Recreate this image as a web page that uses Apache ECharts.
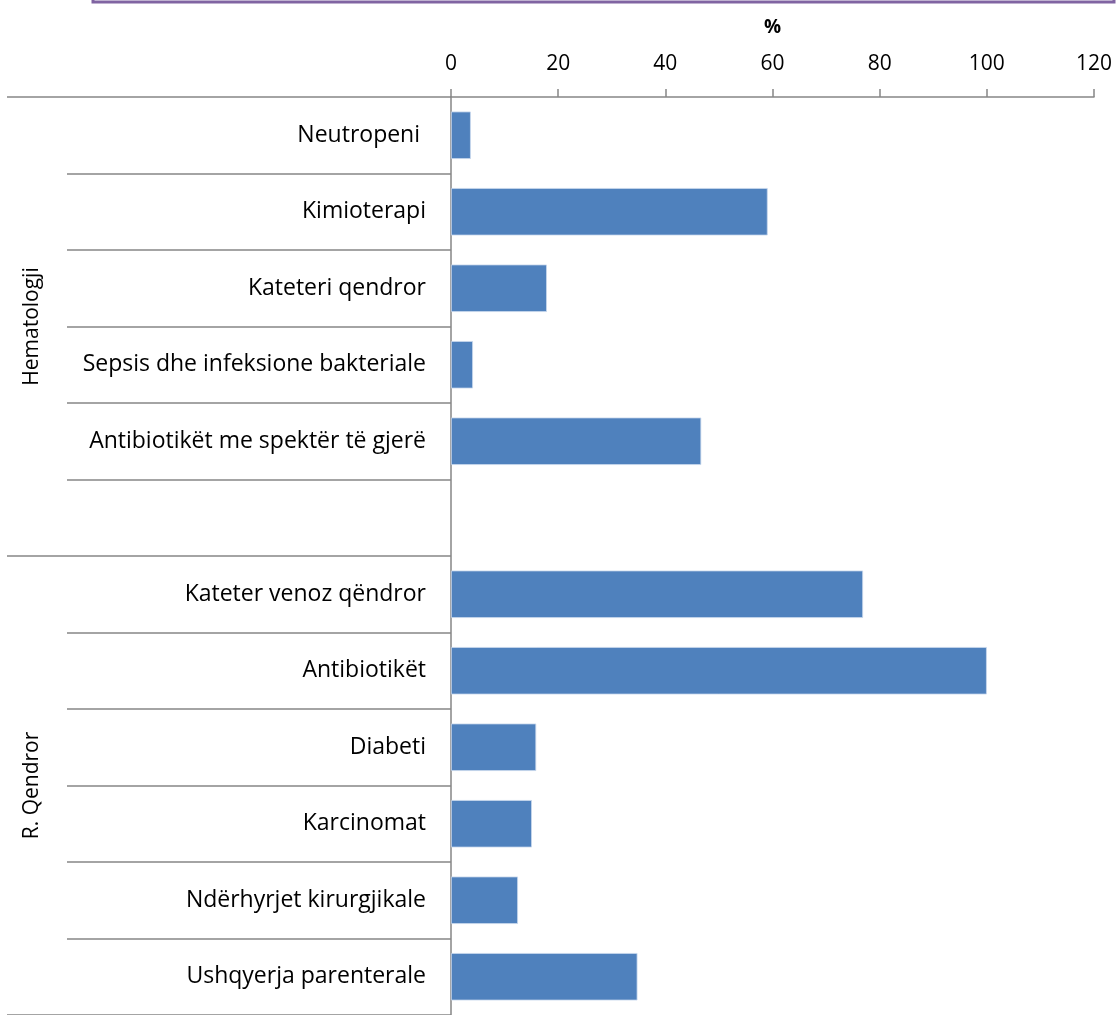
<!DOCTYPE html>
<html>
<head>
<meta charset="utf-8">
<script src="https://cdn.jsdelivr.net/npm/echarts@6/dist/echarts.min.js"></script>
<style>
  html, body { margin: 0; padding: 0; background: #ffffff; }
  #chart { width: 1118px; height: 1015px; }
</style>
</head>
<body>
<div id="chart"></div>
<script>
// Risk factors (%), two ward groups separated by an empty slot
const categories = [
  'Neutropeni ',
  'Kimioterapi',
  'Kateteri qendror',
  'Sepsis dhe infeksione bakteriale',
  'Antibiotikët me spektër të gjerë',
  '',
  'Kateter venoz qëndror',
  'Antibiotikët',
  'Diabeti',
  'Karcinomat',
  'Ndërhyrjet kirurgjikale',
  'Ushqyerja parenterale'
];
const values = [3.7, 59.1, 17.9, 4.1, 46.7, null, 76.9, 100, 15.9, 15.1, 12.5, 34.8];
const groups = ['Hematologji', 'R. Qendror'];
const xTicks = { min: 0, max: 120, interval: 20 };

const FONT = '"Open Sans", "Noto Sans", sans-serif';
const AXIS_GREY = '#868686';

const chart = echarts.init(document.getElementById('chart'), null, { renderer: 'canvas' });

chart.setOption({
  animation: false,
  backgroundColor: '#ffffff',
  textStyle: { fontFamily: FONT },
  grid: { left: 451, top: 97, width: 643, height: 919, containLabel: false },
  xAxis: {
    type: 'value',
    position: 'top',
    min: xTicks.min,
    max: xTicks.max,
    interval: xTicks.interval,
    name: '%',
    nameLocation: 'middle',
    nameGap: 60,
    nameTextStyle: { fontFamily: FONT, fontSize: 19, fontWeight: 'bold', color: '#000' },
    axisLine: { show: true, lineStyle: { color: AXIS_GREY, width: 1.5 } },
    axisTick: { show: true, length: 8, lineStyle: { color: AXIS_GREY, width: 1.5 } },
    axisLabel: { fontFamily: FONT, fontSize: 21, color: '#000', margin: 22 },
    splitLine: { show: false }
  },
  yAxis: [
    {
      type: 'category',
      data: categories,
      inverse: true,
      axisLine: { show: true, lineStyle: { color: AXIS_GREY, width: 1.5 } },
      axisTick: { show: true, length: 384, lineStyle: { color: AXIS_GREY, width: 1.5 } },
      axisLabel: { fontFamily: FONT, fontSize: 23, color: '#000', margin: 25, interval: 0, padding: [5, 0, 0, 0] }
    },
    {
      type: 'category',
      data: groups,
      inverse: true,
      position: 'left',
      offset: 384,
      axisLine: { show: false },
      axisTick: { show: true, length: 60, lineStyle: { color: AXIS_GREY, width: 1.5 } },
      axisLabel: { fontFamily: FONT, fontSize: 21, color: '#000', rotate: 90, margin: 24, interval: 0 }
    }
  ],
  series: [{
    type: 'bar',
    data: values,
    yAxisIndex: 0,
    barCategoryGap: '38%',
    itemStyle: { color: '#4F81BD', borderColor: '#c9d8ec', borderWidth: 0.8 }
  }],
  graphic: [{
    type: 'rect',
    shape: { x: 93, y: -20, width: 1021, height: 22 },
    style: { fill: 'none', stroke: '#8064A2', lineWidth: 3 },
    silent: true
  }]
});
</script>
</body>
</html>
